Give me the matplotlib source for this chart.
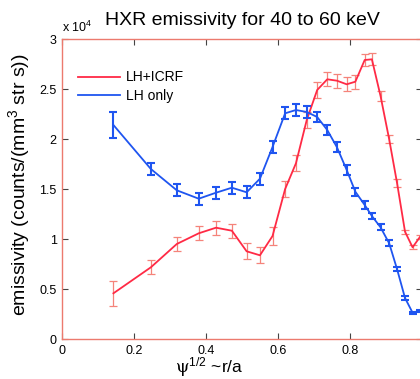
import matplotlib
matplotlib.use("Agg")
import matplotlib.pyplot as plt
import numpy as np

plt.rcParams['font.family'] = ['Liberation Sans', 'DejaVu Sans']
plt.rcParams['mathtext.fontset'] = 'custom'
plt.rcParams['mathtext.rm'] = 'DejaVu Serif'
plt.rcParams['mathtext.sf'] = 'Liberation Sans'
plt.rcParams['mathtext.it'] = 'DejaVu Serif:italic'

# radial positions, psi^(1/2) ~ r/a
r_over_a = [0.142, 0.246, 0.318, 0.379, 0.427, 0.471, 0.512, 0.549, 0.584,
            0.619, 0.649, 0.679, 0.708, 0.736, 0.763, 0.790, 0.814, 0.840,
            0.860, 0.884, 0.908, 0.930, 0.952, 0.973, 0.994]

# emissivity in units of 1e4 counts/(mm^3 str s)
lh_icrf = [0.457, 0.717, 0.95, 1.057, 1.113, 1.083, 0.877, 0.837, 1.03,
           1.50, 1.757, 2.19, 2.49, 2.597, 2.583, 2.547, 2.573, 2.79,
           2.797, 2.43, 1.997, 1.557, 1.073, 0.917, 1.023]
lh_icrf_err = [0.125, 0.07, 0.07, 0.07, 0.07, 0.07, 0.08, 0.08, 0.09,
               0.08, 0.08, 0.08, 0.08, 0.07, 0.07, 0.07, 0.07, 0.06,
               0.06, 0.05, 0.04, 0.04, 0.02, 0.02, 0.02]

lh_only = [2.14, 1.70, 1.487, 1.403, 1.463, 1.513, 1.467, 1.603, 1.92,
           2.257, 2.29, 2.27, 2.22, 2.09, 1.917, 1.69, 1.473, 1.34,
           1.23, 1.117, 0.957, 0.697, 0.41, 0.263, 0.285]
lh_only_err = [0.13, 0.06, 0.06, 0.06, 0.06, 0.06, 0.06, 0.06, 0.06,
               0.06, 0.06, 0.06, 0.05, 0.05, 0.05, 0.05, 0.04, 0.04,
               0.03, 0.03, 0.03, 0.02, 0.02, 0.01, 0.01]

xticks = [0, 0.2, 0.4, 0.6, 0.8, 1.0]
xticklabels = ['0', '0.2', '0.4', '0.6', '0.8', '']
yticks = [0, 0.5, 1, 1.5, 2, 2.5, 3]
yticklabels = ['0', '0.5', '1', '1.5', '2', '2.5', '3']

red = '#ff2a45'
red_err = '#f5837a'
blue = '#1f55f0'

fig = plt.figure(figsize=(4.2, 3.79), dpi=100)
ax = fig.add_axes([62.3 / 420, 40 / 379, 360 / 420, 300 / 379])

ax.errorbar(r_over_a, lh_icrf, yerr=lh_icrf_err, fmt='none', ecolor=red_err,
            elinewidth=0.9, capsize=3, capthick=0.9)
ax.plot(r_over_a, lh_icrf, color=red, lw=1.3, label='LH+ICRF')
ax.errorbar(r_over_a, lh_only, yerr=lh_only_err, fmt='none', ecolor=blue,
            elinewidth=1.5, capsize=3, capthick=1.5)
ax.plot(r_over_a, lh_only, color=blue, lw=1.3, label='LH only')

ax.set_xlim(0, 1)
ax.set_ylim(0, 3)
ax.set_xticks(xticks)
ax.set_xticklabels(xticklabels)
ax.set_yticks(yticks)
ax.set_yticklabels(yticklabels)
ax.tick_params(direction='in', length=4, top=True, right=True,
               labelsize=9, color='#444444', pad=4)
for s in ax.spines.values():
    s.set_color('#ec7a6e')
    s.set_linewidth(1.0)

ax.text(0.0, 1.012, r'x 10$^{\mathsf{4}}$', transform=ax.transAxes, fontsize=9,
        ha='left', va='bottom')
ax.set_title('HXR emissivity for 40 to 60 keV', fontsize=14, pad=10)
ax.set_ylabel(r'emissivity (counts/(mm$^{\mathsf{3}}$ str s))', fontsize=14)
ax.yaxis.set_label_coords(-0.084, 0.513)
ax.set_xlabel(r'$\mathrm{\psi}^{\mathsf{1/2}}$ ~r/a', fontsize=12.5)
ax.xaxis.set_label_coords((209 - 62.3) / 360, -0.055)

ax.legend(loc='upper left', bbox_to_anchor=(0.01, 0.937), frameon=False,
          fontsize=10, handlelength=3.0, handletextpad=0.4, labelspacing=0.3)

fig.savefig('out.png', dpi=100)
